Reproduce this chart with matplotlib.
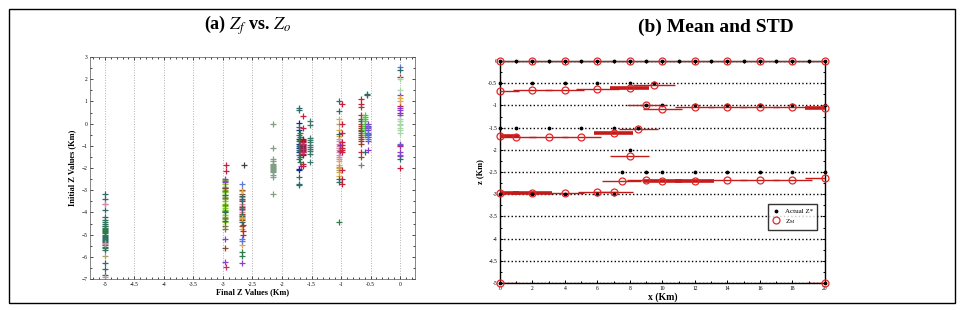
import matplotlib
matplotlib.use('Agg')
import matplotlib.pyplot as plt
from matplotlib.patches import Rectangle
from matplotlib.ticker import MultipleLocator

plt.rcParams['font.family'] = ['Liberation Serif', 'DejaVu Serif']
plt.rcParams['mathtext.fontset'] = 'stix'

# ---------------- panel (a): final vs initial Z, one list per column/colour ----------------
# column at Zf = -5
c500_teal = [-3.15, -3.4, -3.9, -4.2, -4.35, -4.5, -4.62, -4.75, -4.85, -4.95, -5.05, -5.15,
             -5.25, -5.35, -5.55, -5.7, -6.3, -6.55, -6.8]
c500_green = [-4.45, -4.6, -4.7, -4.8, -4.9, -5.0, -5.1, -5.2, -5.3, -5.45, -5.6]
c500_pink = [-3.6, -3.62, -5.4, -5.42, -6.9]
c500_tan = [-5.95]
# column at Zf = -2.97
c297_lime = [-2.55, -2.7, -2.85, -3.0, -3.1, -3.2, -3.3, -3.4, -3.5, -3.6, -3.7, -3.8, -3.9,
             -4.0, -4.1, -4.2, -4.3, -4.45]
c297_olive = [-2.6, -3.05, -3.35, -3.65, -3.95, -4.25, -4.6, -4.75]
c297_purple = [-2.5, -2.65, -2.9, -5.2, -6.25]
c297_red = [-1.85, -2.15]
c297_brown = [-2.9, -5.6]
c297_magenta = [-6.45]
c297_teal = [-3.2, -4.0, -4.4]
# column at Zf = -2.67
c267_pink = [-3.3, -3.45, -3.6, -3.7, -3.8, -3.9, -4.0, -4.1, -4.2, -4.3]
c267_brown = [-3.0, -3.15, -3.4, -3.75, -4.05, -4.35, -4.6]
c267_teal = [-3.25, -3.5, -3.85, -4.15, -4.45]
c267_orange = [-3.05, -4.25, -4.75, -5.45]
c267_red = [-4.55, -4.85, -5.0]
c267_blue = [-2.7, -5.2, -5.3]
c267_green = [-5.8, -5.95]
c267_purple = [-6.3]
c267_dark = [-1.85]
# column at Zf = -2.15
c215_gray = [0.0, -1.1, -1.6, -1.7, -1.8, -1.85, -1.9, -1.95, -2.0, -2.05, -2.1, -2.15, -2.2,
             -2.3, -2.4, -3.15]
# columns at Zf = -1.71, -1.65, -1.53
c171_navy = [0.05, -0.3, -0.7, -0.9, -1.1, -1.3, -2.05, -2.1]
c171_teal = [0.7, 0.6, -0.15, -0.5, -0.8, -1.0, -1.2, -1.4, -1.6, -2.4, -2.7, -2.75]
c171_green = [-0.4, -0.6, -0.75, -0.95, -1.05, -1.25, -1.5, -1.75]
c171_purple = [-1.9]
c165_red = [0.35, -0.2, -0.75, -0.85, -0.95, -1.05, -1.15, -1.25, -1.35, -1.8, -1.9]
c165_dkred = [-0.7, -0.8, -0.9, -1.0, -1.1, -1.2, -1.3, -1.4]
c165_magenta = [-0.9, -1.15, -1.3]
c153_teal = [0.1, -0.05, -0.65, -0.75, -0.85, -0.95, -1.05, -1.15, -1.25, -1.35, -1.75]
# columns at Zf = -1.03, -0.99
c103_pink = [-0.7, -0.8, -0.9, -1.0, -1.1, -1.2, -1.3, -1.4, -1.5, -1.6]
c103_orange = [0.2, -0.3, -0.55, -1.7, -1.85, -2.0, -2.2, -2.35]
c103_teal = [1.0, 0.55, -0.45, -2.5, -2.65]
c103_green = [-4.45]
c103_tan = [0.0, -1.95, -2.1]
c103_purple = [-0.95, -1.25]
c099_red = [0.9, 0.0, -0.4, -0.85, -0.95, -1.1, -1.2, -1.3, -2.1, -2.5, -2.7]
# columns at Zf = -0.67, -0.59, -0.54
c067_red = [1.1, 0.9, 0.4, -0.1, -0.5, -0.8, -1.3]
c067_brown = [0.75, 0.2, 0.0, -0.2, -0.3, -0.4, -0.6, -0.7, -0.9, -1.5]
c067_gray = [-1.85]
c067_teal = [0.1, -0.35]
c059_lime = [0.4, 0.3, 0.2, 0.1, 0.0, -0.1, -0.2, -0.3, -0.4, -0.5]
c059_teal = [-1.3]
c054_purple = [0.0, -0.1, -0.2, -0.3, -0.4, -0.5, -0.6, -0.8, -1.2]
c054_blue = [-0.15, -0.45, -0.7]
c054_teal = [1.35, 1.3]
# column at Zf = 0
c000_blue = [2.55, -0.9, -1.4]
c000_red = [2.1, 0.5, 0.8, -1.0, -2.0]
c000_purple = [1.3, 0.7, 0.6, 0.4, -0.95, -1.3, -1.45]
c000_ltgreen = [1.5, 2.0, 0.2, 0.0, -0.2, -0.3, -0.4, -0.05, 0.1]
c000_orange = [1.0, 1.15]
c000_teal = [2.4, -1.6]

# ---------------- panel (b): actual Z* and mean Z_M with STD ----------------
actual_x = list(range(21)) + [0, 2, 4, 6, 8, 9.5] + [9, 10, 12, 14, 16, 18, 20] \
    + [0, 1, 3, 5, 7, 8.5] + [8] + [7.5, 9, 10, 12, 14, 16, 18, 20] + [0, 2, 4, 6, 7] + [0, 20]
actual_z = [0.0] * 21 + [-0.5] * 6 + [-1.0] * 7 + [-1.5] * 6 + [-2.0] + [-2.5] * 8 \
    + [-3.0] * 5 + [-5.0] * 2

zm_x = [0, 2, 4, 6, 8, 10, 12, 14, 16, 18, 20,
        0, 2, 4, 6, 8, 9.5,
        9, 10, 12, 14, 16, 18, 20,
        0, 1, 3, 5, 7, 8.5,
        8,
        7.5, 9, 10, 12, 14, 16, 18, 20,
        0, 2, 4, 6, 7,
        0, 20]
zm_z = [0, 0, 0, 0, 0, 0, 0, 0, 0, 0, 0,
        -0.68, -0.66, -0.66, -0.64, -0.6, -0.55,
        -1.0, -1.07, -1.04, -1.04, -1.04, -1.04, -1.05,
        -1.68, -1.72, -1.71, -1.7, -1.63, -1.53,
        -2.14,
        -2.7, -2.67, -2.7, -2.7, -2.67, -2.68, -2.67, -2.64,
        -2.97, -2.97, -2.98, -2.95, -2.94,
        -5.0, -5.0]
zm_std = [1.0, 1.0, 1.0, 1.0, 1.0, 1.0, 1.0, 1.0, 1.0, 1.0, 1.0,
          1.2, 1.2, 1.2, 1.3, 1.2, 1.3,
          1.2, 1.2, 1.2, 1.2, 1.2, 1.2, 1.2,
          1.2, 1.2, 1.2, 1.2, 1.2, 1.2,
          1.2,
          1.2, 1.2, 1.2, 1.2, 1.2, 1.2, 1.2, 1.2,
          1.2, 1.2, 1.2, 1.2, 1.2,
          1.1, 1.1]
zm_thick = [0, 0, 0, 0, 0, 0, 0, 0, 0, 0, 0,
            0, 0, 0, 0, 1, 0,
            0, 0, 0, 0, 0, 0, 1,
            1, 0, 0, 0, 1, 0,
            0,
            0, 0, 1, 1, 0, 0, 0, 0,
            1, 1, 0, 0, 0,
            0, 0]

# colours
teal = '#2e6b6b'
dkgreen = '#2f7a4f'
pink = '#d68aa8'
red = '#c8203c'
dkred = '#8b1a3a'
navy = '#1a2a8a'
purple = '#8a3fd0'
lime = '#7ad020'
graygreen = '#7f9f86'
olive = '#7c7a30'
orange = '#e0a848'
blue = '#5a78e0'
brown = '#8a4a2a'
magenta = '#c03070'
gray = '#808080'
ltgreen = '#a8d8a8'
tan = '#b0a070'

groups = [
    (-5.0, c500_teal, teal), (-5.0, c500_green, dkgreen), (-5.0, c500_pink, pink), (-5.0, c500_tan, tan),
    (-2.97, c297_lime, lime), (-2.97, c297_olive, olive), (-2.97, c297_purple, purple),
    (-2.95, c297_red, red), (-2.97, c297_brown, brown), (-2.95, c297_magenta, magenta),
    (-2.97, c297_teal, teal),
    (-2.67, c267_pink, pink), (-2.67, c267_brown, brown), (-2.68, c267_teal, teal),
    (-2.67, c267_orange, orange), (-2.66, c267_red, red), (-2.67, c267_blue, blue),
    (-2.68, c267_green, dkgreen), (-2.67, c267_purple, purple), (-2.65, c267_dark, '#404040'),
    (-2.15, c215_gray, graygreen),
    (-1.71, c171_navy, navy), (-1.71, c171_teal, teal), (-1.7, c171_green, dkgreen),
    (-1.68, c171_purple, purple),
    (-1.65, c165_red, red), (-1.65, c165_dkred, dkred), (-1.64, c165_magenta, magenta),
    (-1.53, c153_teal, '#3a7a6a'),
    (-1.03, c103_pink, pink), (-1.04, c103_orange, orange), (-1.04, c103_teal, teal),
    (-1.03, c103_green, dkgreen), (-1.04, c103_tan, tan), (-1.02, c103_purple, purple),
    (-0.99, c099_red, red),
    (-0.67, c067_red, red), (-0.67, c067_brown, brown), (-0.66, c067_gray, gray),
    (-0.66, c067_teal, teal),
    (-0.59, c059_lime, '#40d040'), (-0.6, c059_teal, teal),
    (-0.54, c054_purple, purple), (-0.55, c054_blue, blue), (-0.56, c054_teal, teal),
    (0.0, c000_blue, blue), (0.0, c000_red, red), (0.0, c000_purple, purple),
    (0.0, c000_ltgreen, ltgreen), (0.0, c000_orange, orange), (0.0, c000_teal, teal),
]

fig = plt.figure(figsize=(9.61, 3.10), dpi=100)

# outer frame
fig.patches.append(Rectangle((0.0094, 0.0226), 0.9844, 0.9484, transform=fig.transFigure,
                             fill=False, edgecolor='black', linewidth=1.0))

# ---- (a) ----
ax1 = fig.add_axes([0.0937, 0.100, 0.338, 0.716])
for xv, ys, col in groups:
    ax1.plot([xv] * len(ys), ys, linestyle='none', marker='+', markersize=3.8,
             markeredgewidth=0.9, color=col)
ax1.set_xlim(-5.25, 0.25)
ax1.set_ylim(-7, 3)
ax1.xaxis.set_major_locator(MultipleLocator(0.5))
ax1.xaxis.set_minor_locator(MultipleLocator(0.1))
ax1.yaxis.set_major_locator(MultipleLocator(1))
ax1.yaxis.set_minor_locator(MultipleLocator(0.5))
ax1.xaxis.set_major_formatter(plt.FuncFormatter(lambda v, p: f'{v:g}'))
ax1.tick_params(which='both', direction='in', top=True, right=True, labelsize=4,
                width=0.5, pad=2)
ax1.tick_params(which='major', length=2.5)
ax1.tick_params(which='minor', length=1.2)
ax1.grid(True, axis='x', which='major', color='#b0b0b0', linestyle=':', linewidth=0.7)
for s in ax1.spines.values():
    s.set_linewidth(0.5)
    s.set_color('#555555')
ax1.set_xlabel('Final Z Values (Km)', fontsize=6, fontweight='bold', labelpad=1)
ax1.set_ylabel('Initial Z Values (Km)', fontsize=6, fontweight='bold', labelpad=4)

fig.text(248 / 961, 1 - 25 / 310, r'(a) $Z_f$ vs. $Z_o$', fontsize=13, fontweight='bold',
         ha='center', va='center')

# ---- (b) ----
ax2 = fig.add_axes([0.5203, 0.087, 0.338, 0.716])
ax2.grid(True, axis='y', which='major', color='black', linestyle=':', linewidth=1.0)
for i in range(len(zm_x)):
    ax2.errorbar(zm_x[i], zm_z[i], xerr=zm_std[i], fmt='none', ecolor='#c41a1a',
                 elinewidth=2.6 if zm_thick[i] else 1.0, capsize=0, zorder=3)
ax2.plot(actual_x, actual_z, linestyle='none', marker='.', markersize=3.5, color='black',
         label='Actual Z*', clip_on=False, zorder=4)
ax2.plot(zm_x, zm_z, linestyle='none', marker='o', markersize=5, markerfacecolor='none',
         markeredgecolor='#e02828', markeredgewidth=0.9, label=r'Z$_\mathregular{M}$',
         clip_on=False, zorder=5)
ax2.set_xlim(0, 20)
ax2.set_ylim(-5, 0)
ax2.xaxis.set_major_locator(MultipleLocator(2))
ax2.xaxis.set_minor_locator(MultipleLocator(1))
ax2.yaxis.set_major_locator(MultipleLocator(0.5))
ax2.yaxis.set_minor_locator(MultipleLocator(0.25))
ax2.xaxis.set_major_formatter(plt.FuncFormatter(lambda v, p: f'{v:g}'))
ax2.yaxis.set_major_formatter(plt.FuncFormatter(lambda v, p: f'{v:g}'))
ax2.tick_params(which='both', direction='in', top=True, right=True, labelsize=4,
                width=0.7, pad=2)
ax2.tick_params(which='major', length=2.5)
ax2.tick_params(which='minor', length=1.5)
for s in ax2.spines.values():
    s.set_linewidth(1.0)
ax2.set_xlabel('x (Km)', fontsize=7, fontweight='bold', labelpad=1)
ax2.set_ylabel('z (Km)', fontsize=6, fontweight='bold', labelpad=3)
leg = ax2.legend(loc='center', bbox_to_anchor=(0.9, 0.298), fontsize=5, frameon=True,
                 fancybox=False, edgecolor='black', borderpad=0.6, handlelength=1.2,
                 handletextpad=0.6, labelspacing=0.4)
leg.get_frame().set_linewidth(1.0)

fig.text(716 / 961, 1 - 27 / 310, '(b) Mean and STD', fontsize=14, fontweight='bold',
         ha='center', va='center')

fig.savefig('out.png', dpi=100)
